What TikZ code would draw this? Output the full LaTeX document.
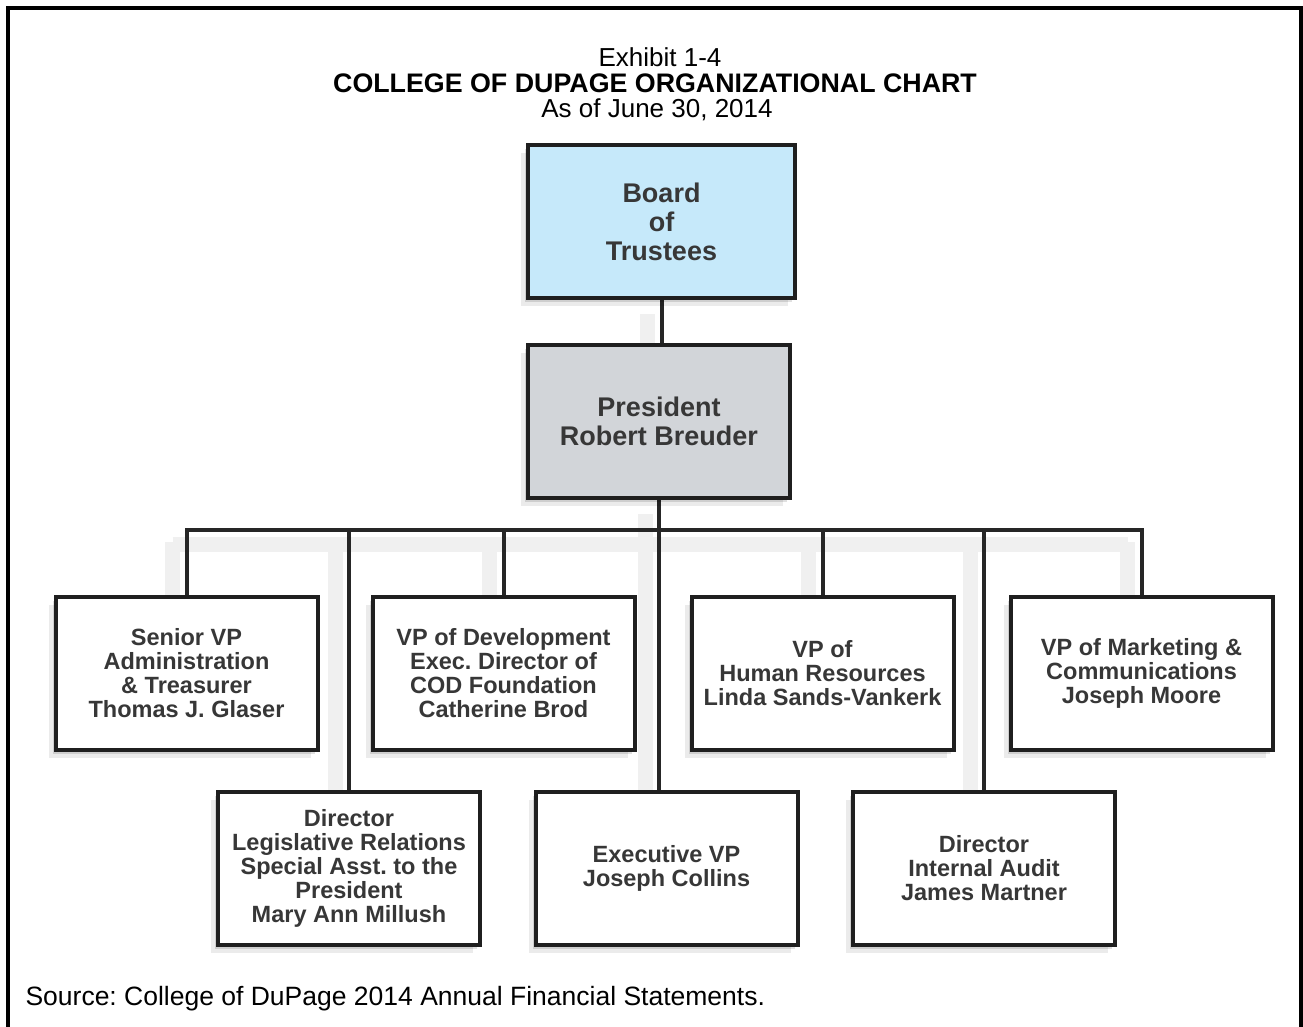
\documentclass[tikz,border=0pt]{standalone}
\usepackage{fontspec}
\setmainfont{Liberation Sans}
\usetikzlibrary{shadows,backgrounds}
\definecolor{boardblue}{RGB}{198,233,250}
\definecolor{presgray}{RGB}{210,213,217}
\definecolor{boxtext}{RGB}{55,55,55}
\frenchspacing
\begin{document}
\begin{tikzpicture}[x=1pt,y=-1pt,
     box/.style={draw=black!88,line width=4pt,fill=white,align=center,
        minimum width=262pt,minimum height=153pt,inner sep=0pt,text=boxtext,
        font=\bfseries\fontsize{23.5}{24}\selectfont,
        drop shadow={shadow xshift=-7pt,shadow yshift=-8pt,opacity=.08,fill=black},
        drop shadow={shadow xshift=-3pt,shadow yshift=-4pt,opacity=.12,fill=black}},
     topbox/.style={box,font=\bfseries\fontsize{27}{29}\selectfont},
     linkshade/.style={draw=black!6,line width=15pt,transform canvas={xshift=-14pt,yshift=-14pt}},
     link/.style={draw=black!85,line width=4pt},
     heading/.style={anchor=base,font=\fontsize{26}{28}\selectfont}
     ]
   \useasboundingbox (0,0) rectangle (1303,1026);
   \draw[line width=4pt] (8,1040)--(8,8)--(1301,8)--(1301,1040);

   \node[heading] (exhibit) at (660,66) {Exhibit 1-4};
   \node[heading,font=\bfseries\fontsize{26.8}{28}\selectfont] (title) at (655,92)
      {COLLEGE OF DUPAGE ORGANIZATIONAL CHART};
   \node[heading] (asof) at (657,117) {As of June 30, 2014};

   \node[topbox,fill=boardblue,minimum width=267pt] (board) at (661.5,221.5)
      {Board\\of\\Trustees};
   \node[topbox,fill=presgray] (pres) at (659,421.5) {President\\Robert Breuder};

   % first row at y=673.5, second row at y=868.5
   \foreach \name/\x/\y/\desc in
      {svp/186.5/673.5/{Senior VP\\Administration\\\& Treasurer\\Thomas J. Glaser},
       dev/503.5/673.5/{VP of Development\\Exec. Director of\\COD Foundation\\Catherine Brod},
       hr/822.5/673.5/{VP of\\Human Resources\\Linda Sands-Vankerk},
       mkt/1141.5/673.5/{VP of Marketing \&\\Communications\\Joseph Moore},
       leg/349/868.5/{Director\\Legislative Relations\\Special Asst. to the\\President\\Mary Ann Millush},
       evp/666.5/868.5/{Executive VP\\Joseph Collins},
       aud/984/868.5/{Director\\Internal Audit\\James Martner}}
   {
     \node[box] (\name) at (\x,\y) {\desc};
   }

   \coordinate (bus) at (660,530);
   % soft bands first, then the lines on top of them
   \begin{scope}[on background layer]
     \foreach \s in {linkshade,link}
     {
       \draw[\s] (board.south) -- (board.south |- pres.north);
       \draw[\s] (bus -| svp.north) -- (bus -| mkt.north);
       \foreach \name in {svp,leg,dev,hr,aud,mkt}
         \draw[\s] (bus -| \name.north) ++(0,-2) -- (\name.north);
       \draw[\s] (pres.south) -- (pres.south |- evp.north);
     }
   \end{scope}

   \node[anchor=base west,font=\fontsize{26.5}{28}\selectfont] (source) at (22,1005)
      {Source: College of DuPage 2014 Annual Financial Statements.};
\end{tikzpicture}
\end{document}
